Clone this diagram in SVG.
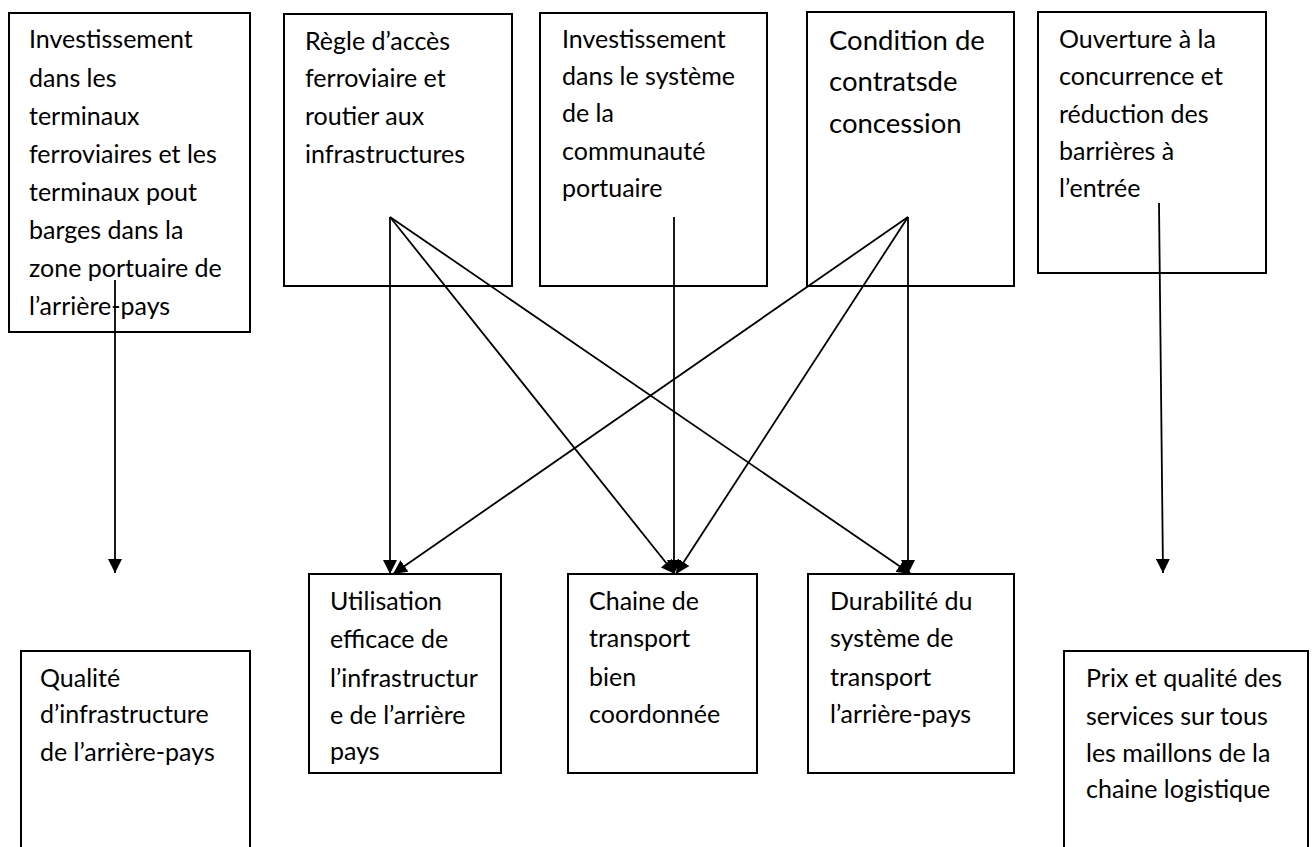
<svg xmlns="http://www.w3.org/2000/svg" width="1314" height="847" viewBox="0 0 1314 847">
<style>
  .box { fill: #ffffff; stroke: #000000; stroke-width: 2; }
  .t { font-family: Lato, "Open Sans", "Liberation Sans", sans-serif; font-size: 25px; fill: #000000; }
  .big { font-size: 27.5px; }
  .con { stroke: #000000; stroke-width: 1.8; fill: none; marker-end: url(#arrow); }
</style>
<defs>
  <marker id="arrow" viewBox="0 0 10 10" refX="10" refY="5" markerWidth="14" markerHeight="14" markerUnits="userSpaceOnUse" orient="auto">
    <path d="M0,0 L10,5 L0,10 z" fill="#000000"/>
  </marker>
</defs>
<rect width="1314" height="847" fill="#ffffff"/>

<g id="n1">
  <rect class="box" x="9" y="13" width="241" height="319"/>
  <text class="t"><tspan x="29" y="48">Investissement</tspan><tspan x="29" y="87">dans les</tspan><tspan x="29" y="125">terminaux</tspan><tspan x="29" y="163">ferroviaires et les</tspan><tspan x="29" y="201">terminaux pout</tspan><tspan x="29" y="239">barges dans la</tspan><tspan x="29" y="277">zone portuaire de</tspan><tspan x="29" y="315">l’arrière-pays</tspan></text>
</g>
<g id="n2">
  <rect class="box" x="284" y="14" width="228" height="272"/>
  <text class="t"><tspan x="305" y="50">Règle d’accès</tspan><tspan x="305" y="87">ferroviaire et</tspan><tspan x="305" y="125">routier aux</tspan><tspan x="305" y="163">infrastructures</tspan></text>
</g>
<g id="n3">
  <rect class="box" x="540" y="13" width="227" height="273"/>
  <text class="t"><tspan x="562" y="48">Investissement</tspan><tspan x="562" y="85">dans le système</tspan><tspan x="562" y="122">de la</tspan><tspan x="562" y="160">communauté</tspan><tspan x="562" y="197">portuaire</tspan></text>
</g>
<g id="n4">
  <rect class="box" x="807" y="12" width="207" height="274"/>
  <text class="t big"><tspan x="829" y="50">Condition de</tspan><tspan x="829" y="91">contratsde</tspan><tspan x="829" y="133">concession</tspan></text>
</g>
<g id="n5">
  <rect class="box" x="1038" y="12" width="228" height="261"/>
  <text class="t"><tspan x="1059" y="48">Ouverture à la</tspan><tspan x="1059" y="85">concurrence et</tspan><tspan x="1059" y="123">réduction des</tspan><tspan x="1059" y="160">barrières à</tspan><tspan x="1059" y="197">l’entrée</tspan></text>
</g>
<g id="n6">
  <rect class="box" x="21" y="651" width="229" height="210"/>
  <text class="t"><tspan x="40" y="687">Qualité</tspan><tspan x="40" y="723">d’infrastructure</tspan><tspan x="40" y="761">de l’arrière-pays</tspan></text>
</g>
<g id="n7">
  <rect class="box" x="309" y="574" width="192" height="199"/>
  <text class="t"><tspan x="330" y="610">Utilisation</tspan><tspan x="330" y="648">efficace de</tspan><tspan x="330" y="687">l’infrastructur</tspan><tspan x="330" y="724">e de l’arrière</tspan><tspan x="330" y="760">pays</tspan></text>
</g>
<g id="n8">
  <rect class="box" x="568" y="574" width="189" height="199"/>
  <text class="t"><tspan x="589" y="610">Chaine de</tspan><tspan x="589" y="647">transport</tspan><tspan x="589" y="686">bien</tspan><tspan x="589" y="723">coordonnée</tspan></text>
</g>
<g id="n9">
  <rect class="box" x="808" y="574" width="206" height="199"/>
  <text class="t"><tspan x="830" y="610">Durabilité du</tspan><tspan x="830" y="647">système de</tspan><tspan x="830" y="686">transport</tspan><tspan x="830" y="723">l’arrière-pays</tspan></text>
</g>
<g id="n10">
  <rect class="box" x="1064" y="651" width="244" height="210"/>
  <text class="t"><tspan x="1086" y="687">Prix et qualité des</tspan><tspan x="1086" y="725">services sur tous</tspan><tspan x="1086" y="762">les maillons de la</tspan><tspan x="1086" y="798">chaine logistique</tspan></text>
</g>

<g id="connectors">
  <line class="con" x1="115" y1="280" x2="115" y2="573"/>
  <line class="con" x1="390" y1="217" x2="390" y2="574"/>
  <line class="con" x1="390" y1="217" x2="675" y2="574"/>
  <line class="con" x1="390" y1="217" x2="911" y2="574"/>
  <line class="con" x1="674" y1="217" x2="674" y2="574"/>
  <line class="con" x1="908" y1="217" x2="393" y2="574"/>
  <line class="con" x1="908" y1="217" x2="676" y2="574"/>
  <line class="con" x1="908" y1="217" x2="908" y2="574"/>
  <line class="con" x1="1159" y1="203" x2="1163" y2="573"/>
</g>
</svg>
